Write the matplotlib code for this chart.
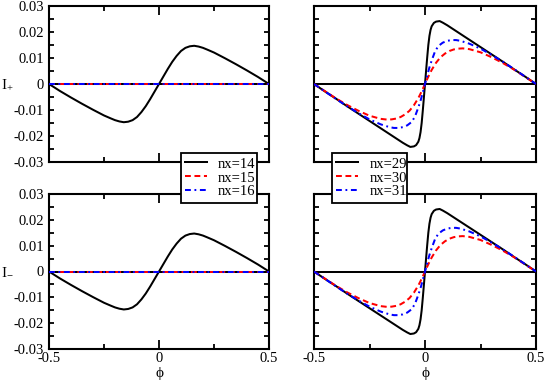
"""Current I+ / I- versus flux phi for several nx."""

import matplotlib
matplotlib.use('Agg')
import matplotlib.pyplot as plt
from matplotlib.ticker import MultipleLocator, FuncFormatter

plt.rcParams['font.family'] = ['Liberation Serif', 'DejaVu Serif']
plt.rcParams['font.size'] = 10
plt.rcParams['axes.unicode_minus'] = False
plt.rcParams['mathtext.fontset'] = 'stix'

# nx=14 (left panels)
phi14 = [-0.5, -0.45, -0.4, -0.35, -0.3, -0.25, -0.22, -0.2, -0.18, -0.16, -0.14,
         -0.12, -0.10, -0.08, -0.06, -0.04, -0.02, 0.0, 0.02, 0.04, 0.06, 0.08,
         0.10, 0.12, 0.14, 0.16, 0.18, 0.2, 0.22, 0.25, 0.3, 0.35, 0.4, 0.45, 0.5]
i14 = [0.0, -0.0027, -0.0052, -0.0076, -0.0099, -0.0121, -0.0132, -0.0139, -0.0144,
       -0.0147, -0.0145, -0.0139, -0.0127, -0.0108, -0.0085, -0.0058, -0.0029, 0.0,
       0.0029, 0.0058, 0.0085, 0.0108, 0.0127, 0.0139, 0.0145, 0.0147, 0.0144,
       0.0139, 0.0132, 0.0121, 0.0099, 0.0076, 0.0052, 0.0027, 0.0]

# nx=15, nx=16 (vanishing current)
phi_flat = [-0.5, 0.5]
i15 = [0.0, 0.0]
i16 = [0.0, 0.0]

# nx=29
phi29 = [-0.5, -0.45, -0.4, -0.35, -0.3, -0.25, -0.2, -0.15, -0.1, -0.08, -0.066,
         -0.05, -0.04, -0.03, -0.025, -0.02, -0.015, -0.01, -0.005, 0.0, 0.005,
         0.01, 0.015, 0.02, 0.025, 0.03, 0.04, 0.05, 0.066, 0.08, 0.1, 0.15, 0.2,
         0.25, 0.3, 0.35, 0.4, 0.45, 0.5]
i29 = [0.0, -0.0029, -0.0057, -0.0086, -0.0114, -0.0142, -0.0170, -0.0198, -0.0226,
       -0.0236, -0.0242, -0.0240, -0.0235, -0.0222, -0.0208, -0.0185, -0.0150,
       -0.0103, -0.0052, 0.0, 0.0052, 0.0103, 0.0150, 0.0185, 0.0208, 0.0222,
       0.0235, 0.0240, 0.0242, 0.0236, 0.0226, 0.0198, 0.0170, 0.0142, 0.0114,
       0.0086, 0.0057, 0.0029, 0.0]

# nx=30
phi30 = [-0.5, -0.45, -0.4, -0.35, -0.3, -0.25, -0.2, -0.17, -0.15, -0.13, -0.11,
         -0.09, -0.07, -0.05, -0.03, -0.02, -0.01, 0.0, 0.01, 0.02, 0.03, 0.05,
         0.07, 0.09, 0.11, 0.13, 0.15, 0.17, 0.2, 0.25, 0.3, 0.35, 0.4, 0.45, 0.5]
i30 = [0.0, -0.0028, -0.0056, -0.0081, -0.0103, -0.0122, -0.0134, -0.0137, -0.0136,
       -0.0133, -0.0127, -0.0117, -0.0103, -0.0082, -0.0054, -0.0037, -0.0019, 0.0,
       0.0019, 0.0037, 0.0054, 0.0082, 0.0103, 0.0117, 0.0127, 0.0133, 0.0136,
       0.0137, 0.0134, 0.0122, 0.0103, 0.0081, 0.0056, 0.0028, 0.0]

# nx=31
phi31 = [-0.5, -0.45, -0.4, -0.35, -0.3, -0.25, -0.2, -0.16, -0.14, -0.12, -0.1,
         -0.08, -0.06, -0.045, -0.03, -0.02, -0.01, 0.0, 0.01, 0.02, 0.03, 0.045,
         0.06, 0.08, 0.1, 0.12, 0.14, 0.16, 0.2, 0.25, 0.3, 0.35, 0.4, 0.45, 0.5]
i31 = [0.0, -0.0029, -0.0058, -0.0086, -0.0112, -0.0136, -0.0155, -0.0166, -0.0169,
       -0.0169, -0.0166, -0.0159, -0.0146, -0.0125, -0.0090, -0.0064, -0.0033, 0.0,
       0.0033, 0.0064, 0.0090, 0.0125, 0.0146, 0.0159, 0.0166, 0.0169, 0.0169,
       0.0166, 0.0155, 0.0136, 0.0112, 0.0086, 0.0058, 0.0029, 0.0]

left_labels = ['nx=14', 'nx=15', 'nx=16']
right_labels = ['nx=29', 'nx=30', 'nx=31']
ylabels = [r'$\mathregular{I_{+}}$', r'$\mathregular{I_{-}}$']

LW = 1.45
DASH = (2.9, 1.8)
DASHDOT = (2.9, 1.8, 0.9, 1.8)


def style_axes(ax, show_y):
    ax.set_xlim(-0.5, 0.5)
    ax.set_ylim(-0.03, 0.03)
    ax.xaxis.set_major_locator(MultipleLocator(0.5))
    ax.xaxis.set_minor_locator(MultipleLocator(0.25))
    ax.yaxis.set_major_locator(MultipleLocator(0.01))
    ax.yaxis.set_minor_locator(MultipleLocator(0.005))
    ax.xaxis.set_major_formatter(FuncFormatter(lambda v, p: f'{v:g}'))
    ax.yaxis.set_major_formatter(FuncFormatter(lambda v, p: f'{v:g}'))
    ax.tick_params(which='both', direction='in', top=True, right=True, width=1.3,
                   labelsize=10.5, pad=2.5)
    ax.tick_params(axis='x', which='major', length=6.5)
    ax.tick_params(axis='x', which='minor', length=3.6)
    ax.tick_params(axis='y', which='both', length=3.6)
    ax.tick_params(axis='y', pad=3.5)
    if not show_y:
        ax.tick_params(axis='y', labelleft=False)
    for s in ax.spines.values():
        s.set_linewidth(1.5)
    ax.axhline(0, color='k', lw=LW, zorder=1)


fig = plt.figure(figsize=(5.45, 3.83), dpi=100)

boxes = {
    (0, 0): [49 / 545, 1 - 162 / 383, 220 / 545, 156 / 383],
    (0, 1): [314 / 545, 1 - 162 / 383, 222 / 545, 156 / 383],
    (1, 0): [49 / 545, 1 - 349 / 383, 220 / 545, 155 / 383],
    (1, 1): [314 / 545, 1 - 349 / 383, 222 / 545, 155 / 383],
}

handles_left = handles_right = None
for row in range(2):
    # left column: nx = 14, 15, 16
    ax = fig.add_axes(boxes[(row, 0)])
    style_axes(ax, True)
    l1, = ax.plot(phi14, i14, color='k', lw=LW, zorder=3)
    l2, = ax.plot(phi_flat, i15, color='#ff0000', lw=LW, dashes=DASH, zorder=3)
    l3, = ax.plot(phi_flat, i16, color='#0000ff', lw=LW, dashes=DASHDOT, zorder=3)
    handles_left = [l1, l2, l3]
    ax.set_ylabel(ylabels[row], rotation=0, ha='center', va='center', fontsize=11)
    ax.yaxis.set_label_coords(-0.19, 0.5)
    if row == 1:
        ax.set_xlabel('\u03d5', fontsize=11, va='top')
        ax.xaxis.set_label_coords(0.5, -0.115)
    else:
        ax.tick_params(axis='x', labelbottom=False)

    # right column: nx = 29, 30, 31
    ax = fig.add_axes(boxes[(row, 1)])
    style_axes(ax, False)
    r1, = ax.plot(phi29, i29, color='k', lw=LW, zorder=3)
    r2, = ax.plot(phi30, i30, color='#ff0000', lw=LW, dashes=DASH, zorder=3)
    r3, = ax.plot(phi31, i31, color='#0000ff', lw=LW, dashes=DASHDOT, zorder=3)
    handles_right = [r1, r2, r3]
    if row == 1:
        ax.set_xlabel('\u03d5', fontsize=11, va='top')
        ax.xaxis.set_label_coords(0.5, -0.115)
    else:
        ax.tick_params(axis='x', labelbottom=False)

leg_kw = dict(loc='upper left', mode='expand', borderaxespad=0, fancybox=False,
              framealpha=1, edgecolor='k', fontsize=10.5, handlelength=1.5,
              handletextpad=0.75, borderpad=0.3, labelspacing=0.05)
leg1 = fig.legend(handles_left, left_labels,
                  bbox_to_anchor=(181 / 545, 0.0, 76 / 545, 1 - 153 / 383), **leg_kw)
leg2 = fig.legend(handles_right, right_labels,
                  bbox_to_anchor=(332 / 545, 0.0, 75 / 545, 1 - 153 / 383), **leg_kw)
for leg in (leg1, leg2):
    leg.get_frame().set_linewidth(1.3)

fig.savefig('out.png', dpi=100)
